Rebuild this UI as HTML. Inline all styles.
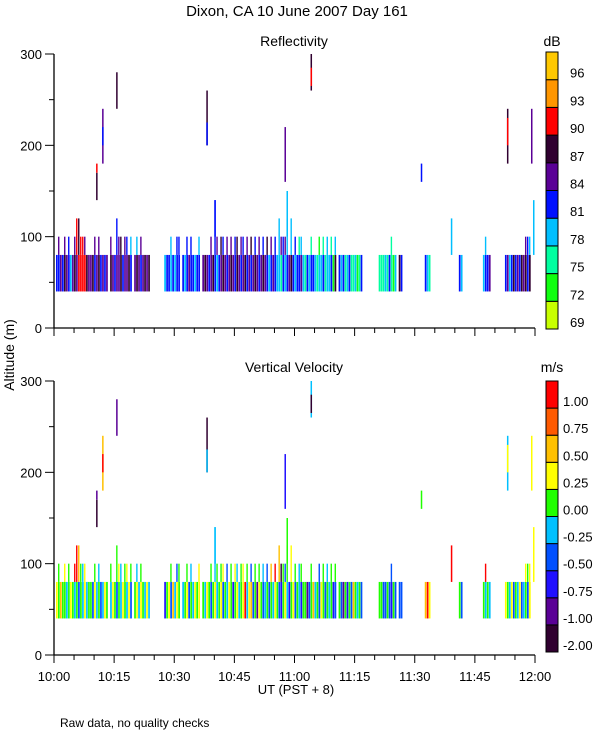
<!DOCTYPE html>
<html><head><meta charset="utf-8"><style>
body{margin:0;background:#fff;}
svg text{font-family:"Liberation Sans",sans-serif;fill:#000;}
</style></head><body>
<svg id="chart" width="600" height="750" xmlns="http://www.w3.org/2000/svg">
<text x="297" y="16" font-size="15" text-anchor="middle">Dixon, CA 10 June 2007  Day 161</text>
<text x="294" y="46" font-size="14" text-anchor="middle">Reflectivity</text>
<text x="294" y="372" font-size="14" text-anchor="middle">Vertical Velocity</text>
<text transform="translate(14,355) rotate(-90)" font-size="14" text-anchor="middle">Altitude (m)</text>
<text x="296" y="694" font-size="13" text-anchor="middle">UT  (PST + 8)</text>
<text x="60" y="727" font-size="12">Raw data, no quality checks</text>
<text x="552" y="46" font-size="14" text-anchor="middle">dB</text>
<text x="552" y="372" font-size="14" text-anchor="middle">m/s</text>
<g id="g"></g>
</svg>
<script>
const times=[0.5,1,1.5,2,2.5,3,3.5,4,4.5,5,5.5,6,6.5,7,7.5,8,8.5,9,9.5,10,10.5,11,11.5,12,12.5,13,14,14.5,15,15.5,16,16.5,17,17.5,18,18.5,19,20,20.5,21,21.5,22,22.5,23,23.5,
27.5,28,28.5,29,29.5,30,30.5,31,32,32.5,33,33.5,34,34.5,35,35.5,36,
37,37.5,38,38.5,39,39.5,40,40.5,41,41.5,42,42.5,43,43.5,44,44.5,45,45.5,46,46.5,47,47.5,48,48.5,49,49.5,50,50.5,51,51.5,52,52.5,53,53.5,54,54.5,55,55.5,56,56.5,57,57.5,58,58.5,59,59.5,60,60.5,61,61.5,62,62.5,63,63.5,64,64.5,65,65.5,66,66.5,67,67.5,68,68.5,69,69.5,70,
71,71.5,72,72.5,73,73.5,74,74.5,75,75.5,76,76.5,
81,81.5,82,82.5,83,83.5,84,84.5,85,86,86.5,
92.5,93,93.5,101,101.5,107,107.5,108,108.5,112.5,113,113.5,114,114.5,115,115.5,116,116.5,117,117.5,118,118.5];
const refLow=[82,82,85,82,88,85,82,80,85,88,85,91,91,91,91,88,85,85,88,82,85,88,82,85,82,85,88,85,82,85,85,88,82,85,85,88,82,85,88,85,82,85,88,85,88,
80,82,82,80,82,80,82,82,82,80,82,85,82,82,80,82,82,
85,88,85,82,85,88,82,80,82,85,88,85,82,85,88,85,82,88,85,82,85,88,82,85,82,85,88,85,82,85,88,85,82,80,82,85,82,80,80,76,82,80,82,85,88,82,80,82,82,85,80,76,82,80,82,82,80,76,80,80,82,76,80,80,82,73,88,
82,80,82,76,80,82,76,76,80,73,76,82,
76,76,76,80,76,82,76,73,80,88,82,
82,80,76,82,80,80,82,82,85,82,85,80,82,88,82,85,82,88,85,88,82,88];
const velLow=[0.3,0.1,0.6,0.1,0.1,-0.1,0.1,0.3,0.1,-0.1,0.1,-0.4,0.1,-0.1,0.3,-0.1,0.1,0.1,-0.4,0.3,-0.1,0.1,-0.4,-0.1,0.3,0.1,-0.1,0.3,0.1,-0.4,0.1,-0.1,0.3,0.1,-0.1,0.3,-0.4,0.1,0.3,-0.1,0.3,0.1,-0.1,0.3,-0.1,
-0.6,0.1,0.3,-0.4,0.6,-0.1,0.3,0.1,-0.1,0.1,0.3,-0.4,0.1,-0.1,0.3,0.1,0.3,
0.1,-0.1,0.3,0.1,-0.4,0.1,0.3,-0.1,0.1,0.3,-0.4,0.1,-0.1,0.3,0.1,-0.6,0.1,0.3,-0.1,0.1,0.3,1.1,-0.1,0.3,0.6,-0.4,0.1,-0.9,0.3,0.1,-0.4,-0.1,0.1,-0.4,0.1,-0.1,0.3,0.1,-0.4,-0.6,0.1,0.3,-0.1,-0.6,0.1,0.3,-0.4,0.1,-0.1,-0.6,0.1,0.1,-0.9,-0.4,0.1,0.6,-0.1,0.1,-0.4,0.3,0.1,-0.4,0.1,-0.1,0.1,-0.6,-0.4,
0.1,-0.4,-0.9,0.1,-0.6,0.1,-0.4,0.6,0.1,-0.1,0.1,-0.4,
0.1,0.1,-0.4,-0.4,0.1,-0.4,-0.6,0.1,-0.4,-0.4,-0.4,
0.6,1.1,0.3,0.1,-0.4,0.1,-0.1,0.1,-0.1,0.3,0.1,-0.1,0.3,-0.4,0.1,-0.1,0.3,-0.4,-0.1,0.1,-0.4,0.3];
const baseAlt=40, lowTop=80;
const tallT=[1,2.5,3.5,5,5.5,6,6.5,7,7.5,10,11,14,15.5,16,16.5,17.5,18,19,20.5,21.5,29,30.5,31,33,34,36,39,40,40.5,41.5,42,43,44,45,45.5,46.5,47,48,49,50,51,52,53,54,55,56,56.5,57,57.5,58,59,60,61,61.5,64,66,67,68,69,70,84,107.5,117.5,118,118.5];
const tallTop=[100,100,100,100,120,120,100,100,100,100,100,100,120,100,100,100,100,100,100,100,100,100,100,100,100,100,100,140,100,100,100,100,100,100,100,100,100,100,100,100,100,100,100,100,100,120,100,100,100,120,120,100,100,100,100,100,100,100,100,100,100,100,100,100,100];
const tallRef=[85,85,82,85,91,88,91,91,85,85,85,85,82,85,88,85,82,80,80,85,80,82,82,82,82,80,85,82,85,88,82,85,85,82,88,85,82,85,88,82,85,82,88,85,82,80,85,82,85,80,80,82,76,80,76,73,76,80,76,80,76,80,85,82,80];
const tallVel=[0.1,0.3,0.1,1.1,1.1,0.6,0.1,-0.1,0.3,0.1,-0.1,0.1,0.1,0.3,-0.1,0.1,0.3,0.1,-0.1,0.1,0.1,-0.4,0.1,0.1,-0.1,0.3,0.1,-0.1,0.1,0.1,0.3,-0.4,0.1,0.3,-0.1,0.1,0.3,0.1,-0.4,0.1,0.1,-0.1,-0.4,0.6,1.1,0.6,-1.5,0.1,-0.4,0.1,0.3,0.1,-0.1,0.1,0.1,-0.4,0.1,-0.1,0.1,0.1,-0.4,1.1,0.3,0.1,0.3];
const upT=[10.5,10.5,12,12,15.5,38,38,40,57.5,58,64,64,91.5,99,113,113,119,119.5];
const upLo=[140,170,180,200,240,200,200,100,160,100,260,265,160,80,180,200,180,80];
const upHi=[170,180,240,220,280,260,225,140,220,150,300,285,180,120,240,230,240,140];
const upRef=[88,91,85,82,88,88,82,82,85,80,88,91,82,80,88,91,85,80];
const upVel=[-1.5,-0.9,0.6,1.1,-0.9,-1.5,-0.1,-0.1,-0.6,0.1,-0.1,-1.5,0.1,1.1,-0.1,0.3,0.3,0.3];
const refColors=["#c8ff00","#10ff10","#00ffa0","#00bfff","#0010ff","#5a0096","#300030","#ff0000","#ff9600","#ffc800"];
const refTicks=["69","72","75","78","81","84","87","90","93","96"];
const velColors=["#300030","#5a0096","#2010ff","#0050ff","#00c0ff","#20ff00","#ffff00","#ffc000","#ff5a00","#ff0000"];
const velTicks=["-2.00","-1.00","-0.75","-0.50","-0.25","0.00","0.25","0.50","0.75","1.00"];
const xTicks=["10:00","10:15","10:30","10:45","11:00","11:15","11:30","11:45","12:00"];

const NS="http://www.w3.org/2000/svg";
const G=document.getElementById('g');
const X0=54,X1=535;
const xS=t=>X0+(X1-X0)*t/120;
const panels=[{bottom:328,name:'reflectivity'},{bottom:655,name:'velocity'}];
const H=274;
function yS(p,a){return p.bottom-H*a/300;}
function refColor(v){let i=Math.floor((v-69)/3);i=Math.max(0,Math.min(9,i));return refColors[i];}
function velColor(v){const b=[-1,-0.75,-0.5,-0.25,0,0.25,0.5,0.75,1];let i=0;while(i<b.length&&v>=b[i])i++;return velColors[i];}
function mk(tag,attrs){const e=document.createElementNS(NS,tag);for(const k in attrs)e.setAttribute(k,attrs[k]);G.appendChild(e);return e;}
function bar(p,t,lo,hi,col,nm,wf){
  const x=xS(t),w=(xS(t+0.5)-x)*wf;
  const e=mk('rect',{x:x,y:yS(p,hi),width:w,height:yS(p,lo)-yS(p,hi),fill:col});
  
  
}
panels.forEach((p,pi)=>{
  const isRef=pi===0;
  for(let i=0;i<times.length;i++){
    const v=isRef?refLow[i]:velLow[i];
    if(v===undefined)continue;
    bar(p,times[i],baseAlt,lowTop,isRef?refColor(v):velColor(v),p.name+'-cell',0.85);
  }
  for(let i=0;i<tallT.length;i++){
    const v=isRef?tallRef[i]:tallVel[i];
    bar(p,tallT[i],lowTop,tallTop[i],isRef?refColor(v):velColor(v),p.name+'-cell',0.7);
  }
  for(let i=0;i<upT.length;i++){
    const v=isRef?upRef[i]:upVel[i];
    bar(p,upT[i],upLo[i],upHi[i],isRef?refColor(v):velColor(v),p.name+'-cell',0.75);
  }
  let a=mk('line',{x1:X0,y1:yS(p,300),x2:X0,y2:p.bottom,stroke:'#000','stroke-width':1.3});
  
  
  a=mk('line',{x1:X0,y1:p.bottom,x2:X1,y2:p.bottom,stroke:'#000','stroke-width':1.3});
  
  
  for(let v=0;v<=300;v+=50){
    const y=yS(p,v),maj=v%100===0;
    mk('line',{x1:X0-(maj?9:5),y1:y,x2:X0,y2:y,stroke:'#000'});
    if(maj){const t=mk('text',{x:X0-12,y:y+5,'font-size':13,'text-anchor':'end'});t.textContent=v;
      
      }
  }
  for(let m=0;m<=120;m+=5){
    const x=xS(m),maj=m%15===0;
    mk('line',{x1:x,y1:p.bottom,x2:x,y2:p.bottom+(maj?8:5),stroke:'#000'});
  }
  const cols=isRef?refColors:velColors,ticks=isRef?refTicks:velTicks;
  const cy0=isRef?52:381,ch=(isRef?329:652)-cy0,sh=ch/10;
  for(let i=0;i<10;i++){
    const y=cy0+ch-(i+1)*sh;
    const r=mk('rect',{x:546,y:y,width:12,height:sh,fill:cols[i],stroke:'#000','stroke-width':1});
    
    
    const t=mk('text',{x:isRef?570:563,y:y+sh-2,'font-size':13});
    t.textContent=ticks[i];
    
    
  }
});
xTicks.forEach((lab,i)=>{
  const t=mk('text',{x:xS(i*15),y:681,'font-size':13,'text-anchor':'middle'});
  t.textContent=lab;
  
  
});
</script>
</body></html>
